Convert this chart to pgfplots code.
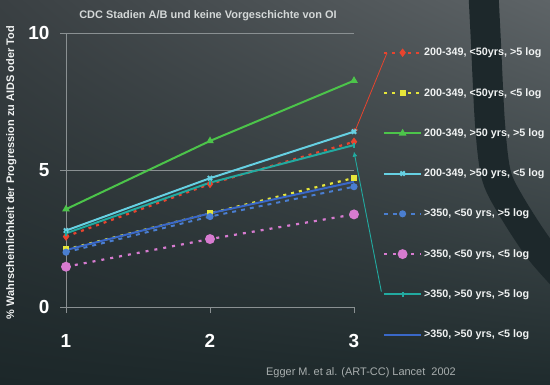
\documentclass[border=0pt]{standalone}
\usepackage{pgfplots}
\pgfplotsset{compat=1.18}
\usetikzlibrary{arrows.meta,shadings}
\usepackage{fontspec}
\setmainfont{Liberation Sans}
\definecolor{bgTL}{HTML}{3A4043}
\definecolor{bgTR}{HTML}{5E6467}
\definecolor{bgBL}{HTML}{1C2729}
\definecolor{bgBR}{HTML}{1F2B2D}
\definecolor{band}{HTML}{1D282B}
\definecolor{gridc}{HTML}{8A9092}
\definecolor{redc}{HTML}{E8442E}
\definecolor{yelc}{HTML}{E6E63A}
\definecolor{grnc}{HTML}{4CC44A}
\definecolor{cyac}{HTML}{66D0E2}
\definecolor{bldc}{HTML}{4A7ED0}
\definecolor{pnkc}{HTML}{D77BD0}
\definecolor{tealc}{HTML}{22AAA0}
\definecolor{blsc}{HTML}{3A68C8}
\definecolor{txtc}{HTML}{F0F2F2}
\definecolor{titc}{HTML}{D4D8D8}
\definecolor{citc}{HTML}{A8AEAE}
\begin{document}
\begin{tikzpicture}[x=1bp,y=1bp]
\shade[upper left=bgTL, upper right=bgTR, lower left=bgBL, lower right=bgBR] (0,0) rectangle (550,384);
\begin{scope}
\clip (0,0) rectangle (550,384);
\draw[band, line width=30bp] plot[smooth] coordinates {(483,400) (486,340) (490,260) (496,210) (510,180) (540,134) (575,95)};
\end{scope}
\begin{axis}[
  at={(66bp,77bp)}, anchor=south west, scale only axis,
  width=288bp, height=274bp,
  xmin=1, xmax=3, ymin=0, ymax=10, clip=false,
  xtick={1,2,3}, ytick={0,5,10},
  axis x line*=bottom, axis y line*=left,
  axis line style={-, gridc, line width=0.8bp},
  ymajorgrids, grid style={gridc, line width=0.8bp},
  tick style={gridc, line width=0.8bp},
  tick align=outside, major tick length=6bp,
  /pgf/number format/assume math mode=true,
  ticklabel style={font=\fontsize{19}{19}\selectfont\bfseries, text=white},
  xticklabel style={yshift=-18bp},
  yticklabel style={xshift=-7bp},
  ylabel={\% Wahrscheinlichkeit der Progression zu AIDS oder Tod},
  ylabel style={font=\fontsize{11}{13}\selectfont\bfseries, text=txtc, at={(axis description cs:-0.19,0.49)}, anchor=center},
  legend style={at={(axis description cs:1.10,0.953)}, anchor=north west, draw=none, fill=none,
    font=\fontsize{10.8}{12}\selectfont\bfseries, text=txtc, row sep=27bp, inner sep=0pt},
  legend cell align=left,
  legend image code/.code={\draw[mark repeat=2,mark phase=2,#1] plot coordinates {(0bp,0bp) (18.5bp,0bp) (37bp,0bp)};},
]
\addplot[redc, line width=2.2bp, dash pattern=on 3bp off 5bp, mark=diamond*, mark size=2.5bp, mark options={solid}] coordinates {(1,2.57) (2,4.49) (3,6.03)};
\addlegendentry{200-349, <50yrs, >5 log}
\addplot[yelc, line width=2.2bp, dash pattern=on 3bp off 5bp, mark=square*, mark size=2bp, mark options={solid}] coordinates {(1,2.1) (2,3.42) (3,4.71)};
\addlegendentry{200-349, <50yrs, <5 log}
\addplot[grnc, line width=2bp, mark=triangle*, mark size=2.5bp] coordinates {(1,3.57) (2,6.06) (3,8.26)};
\addlegendentry{200-349, >50 yrs, >5 log}
\addplot[cyac, line width=2bp, mark=x, mark size=3bp] coordinates {(1,2.79) (2,4.70) (3,6.40)};
\addlegendentry{200-349, >50 yrs, <5 log}
\addplot[bldc, line width=2bp, dash pattern=on 4bp off 5bp, mark=otimes*, mark size=2.5bp, mark options={solid, fill=yelc!40!white}] coordinates {(1,2.0) (2,3.30) (3,4.39)};
\addlegendentry{>350, <50 yrs, >5 log}
\addplot[pnkc, line width=2.2bp, dash pattern=on 3bp off 6bp, mark=*, mark size=3.8bp, mark options={solid}] coordinates {(1,1.47) (2,2.48) (3,3.38)};
\addlegendentry{>350, <50 yrs, <5 log}
\addplot[tealc, line width=2bp, mark=|, mark size=2.5bp] coordinates {(1,2.69) (2,4.54) (3,5.91)};
\addlegendentry{>350, >50 yrs, >5 log}
\addplot[blsc, line width=2bp] coordinates {(1,2.08) (2,3.42) (3,4.57)};
\addlegendentry{>350, >50 yrs, <5 log}
\addplot[redc, line width=0.8bp, {Latex[length=5bp,width=5bp]}-, forget plot] coordinates {(3,6.33) (3.229,9.27)};
\addplot[tealc, line width=0.9bp, {Latex[length=5bp,width=5bp]}-, forget plot] coordinates {(3,5.67) (3.19,0.56)};
\end{axis}
\node[font=\fontsize{11}{13}\selectfont\bfseries, text=titc] at (208,368) {CDC Stadien A/B und keine Vorgeschichte von OI};
\node[font=\fontsize{11}{13}\selectfont, text=citc] at (361,11) {Egger M. et al. (ART-CC) Lancet\ \ 2002};
\end{tikzpicture}
\end{document}
